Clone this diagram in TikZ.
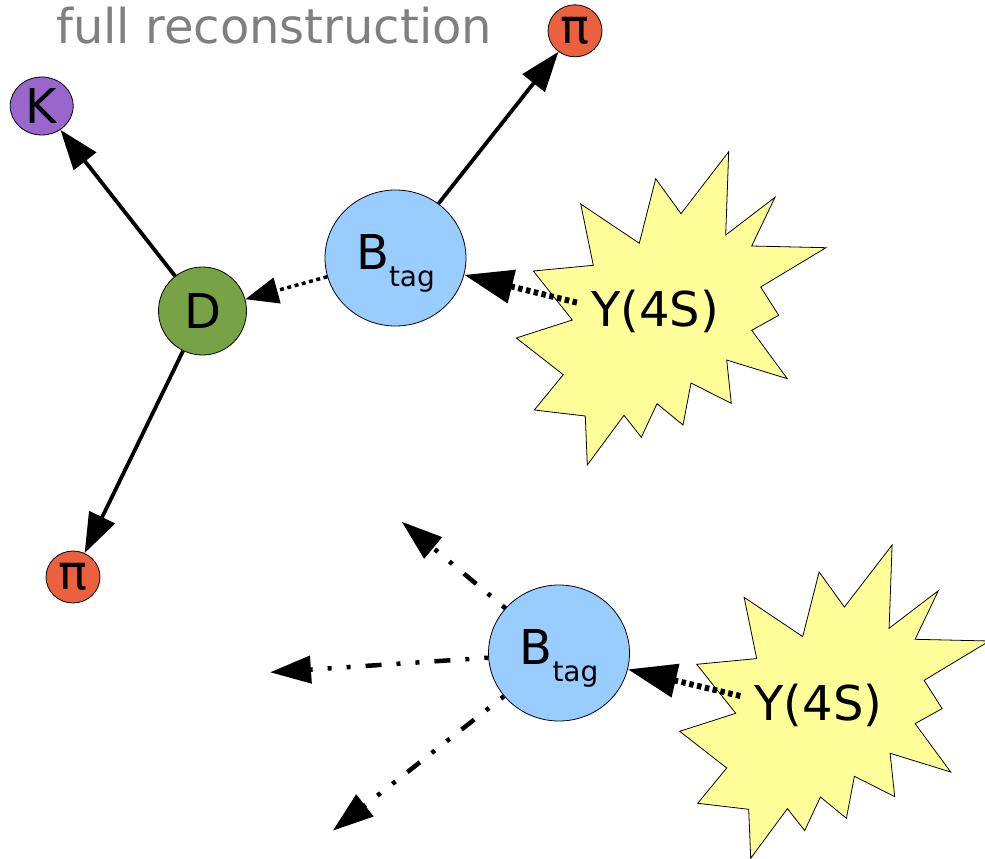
\documentclass[tikz,border=0pt]{standalone}
\usepackage{fontspec}
\setmainfont{DejaVu Sans}
\usetikzlibrary{shapes.geometric, arrows.meta}

\definecolor{KaonPurple}{HTML}{9966CC}
\definecolor{PionOrange}{HTML}{EB613D}
\definecolor{DGreen}{HTML}{77A346}
\definecolor{BBlue}{HTML}{99CCFF}
\definecolor{BurstYellow}{HTML}{FFFF99}
\definecolor{TitleGray}{HTML}{808080}

\tikzset{
  bigfont/.style={font=\fontsize{48}{48}\selectfont},
  particle/.style={ellipse, draw=black, line width=0.8pt, inner sep=0pt, bigfont},
  kaon/.style={particle, fill=KaonPurple, minimum width=63pt, minimum height=58pt},
  pion/.style={particle, fill=PionOrange, minimum width=54pt, minimum height=52pt},
  dmeson/.style={particle, fill=DGreen, minimum size=88pt},
  bmeson/.style={particle, fill=BBlue, minimum width=141pt, minimum height=136pt, text height=35pt, text depth=13pt},
  burst/.style={draw=black, line width=0.8pt, fill=BurstYellow, line join=miter},
  ylabel/.style={inner xsep=14pt, inner ysep=0pt, bigfont},
  title/.style={inner sep=0pt, text=TitleGray, bigfont},
  decay/.style={line width=3.8pt, -{Triangle[length=40pt, width=28pt]}},
  dotdecay/.style={line width=3.5pt, dash pattern=on 4pt off 3.5pt, -{Triangle[length=33pt, width=26pt]}},
  beamline/.style={line width=6pt, dash pattern=on 4.5pt off 3.5pt, -{Triangle[length=49pt, width=33pt]}},
  restdecay/.style={line width=4.5pt, dash pattern=on 4pt off 15pt on 4pt off 15pt on 16pt off 15pt, -{Triangle[length=41pt, width=27pt]}}
}

% B with a lowered "tag"
\newcommand{\Btag}{B\raisebox{-17.7pt}{\fontsize{28}{28}\selectfont tag}}

% jagged star behind the Y(4S) label, given its centre
\newcommand{\burstat}[1]{%
  \draw[burst, shift={#1}]
    (73.7,-160.3) -- (70.7,-77) -- (120,-114.7) -- (96.7,-66) -- (171,-64.3)
    -- (105.7,-25) -- (123.7,3.3) -- (96.7,18.3) -- (132.3,66.7) -- (71.7,48)
    -- (76.3,91.3) -- (36,71) -- (28,113) -- (2,91.7) -- (-13.7,125.3)
    -- (-31,103.3) -- (-67.7,153) -- (-69.7,104) -- (-120.7,98) -- (-91.7,62.7)
    -- (-138.7,26) -- (-82.7,8) -- (-121.7,-41) -- (-61.7,-46.7) -- (-74.3,-108)
    -- (-15.7,-68.7) -- (0.7,-133.3) -- (26,-98.3) -- cycle;}

\begin{document}
\begin{tikzpicture}[x=1pt, y=-1pt]
  \path[use as bounding box] (0,0) rectangle (985,859);

  \node[title, anchor=base west] (title) at (56,43.5) {full reconstruction};

  % fully reconstructed side
  \node[kaon] (k) at (41.7,106) {K};
  \node[pion] (pitop) at (575,30.8) {π};
  \node[pion] (pibot) at (73,577) {π};
  \node[dmeson] (d) at (202.5,311) {D};
  \node[bmeson] (btag) at (395.5,258) {\Btag};

  \burstat{(655,312)}
  \node[ylabel] (ups) at (655,311.6) {Y(4S)};

  \draw[decay] (d) -- (k);
  \draw[decay] (d) -- (pibot);
  \draw[decay] (btag) -- (pitop);
  \draw[dotdecay] (btag) -- (d);
  \draw[beamline] ([yshift=9pt]ups.west) -- (btag);

  % inclusive side
  \node[bmeson] (btagx) at (559,653) {\Btag};

  \burstat{(818.4,705.3)}
  \node[ylabel] (upsx) at (818.4,705) {Y(4S)};

  \coordinate (xa) at (401.7,521.7);
  \coordinate (xb) at (270,672.3);
  \coordinate (xc) at (332.7,830.7);

  \draw[beamline] ([yshift=9pt]upsx.west) -- (btagx);
  \draw[restdecay] (btagx) -- (xa);
  \draw[restdecay] (btagx) -- (xb);
  \draw[restdecay] (btagx) -- (xc);
\end{tikzpicture}
\end{document}
